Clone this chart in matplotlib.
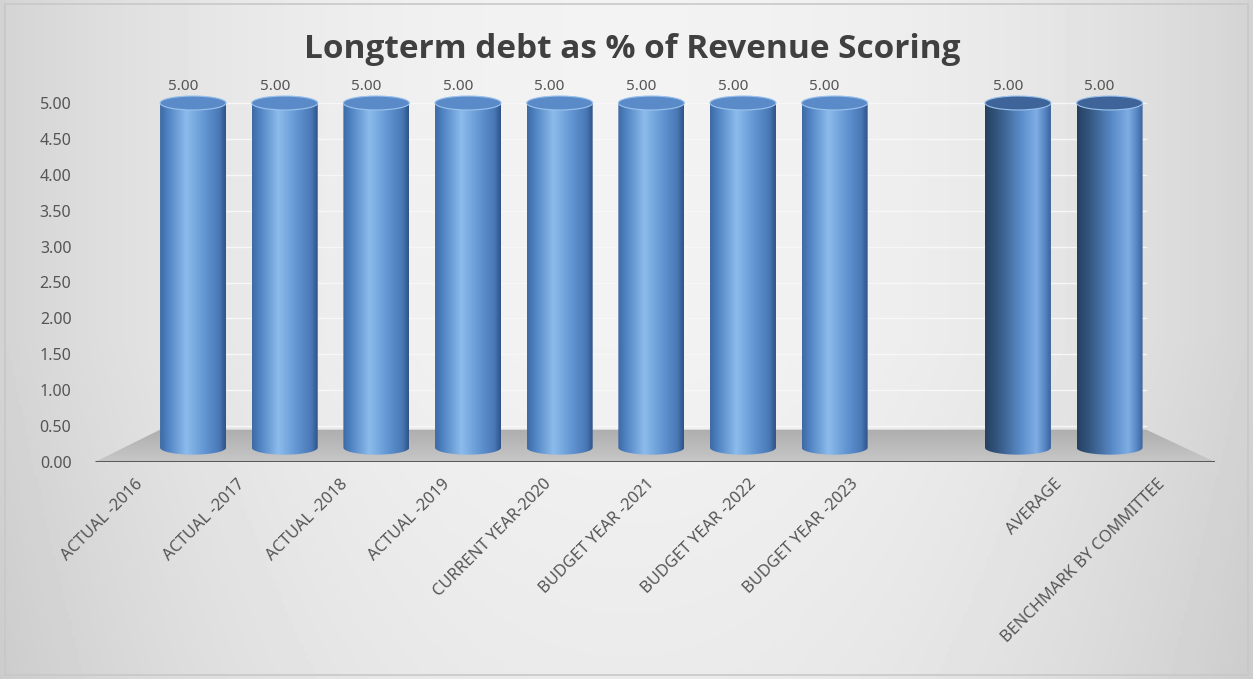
import numpy as np
import matplotlib.pyplot as plt
from matplotlib.patches import Polygon, Ellipse, Rectangle
from matplotlib.colors import LinearSegmentedColormap
import matplotlib.transforms as mtransforms

categories = ["ACTUAL -2016", "ACTUAL -2017", "ACTUAL -2018", "ACTUAL -2019",
              "CURRENT YEAR-2020", "BUDGET YEAR -2021", "BUDGET YEAR -2022",
              "BUDGET YEAR -2023", "", "AVERAGE", "BENCHMARK BY COMMITTEE"]
scores = [5.0, 5.0, 5.0, 5.0, 5.0, 5.0, 5.0, 5.0, None, 5.0, 5.0]
summary_cols = ["AVERAGE", "BENCHMARK BY COMMITTEE"]

W, H = 1253, 679
fig = plt.figure(figsize=(W / 100, H / 100), dpi=100)

# soft gray backdrop, lighter in the middle
bg = fig.add_axes([0, 0, 1, 1])
xx = np.linspace(-1, 1, 400)
yy = np.linspace(-1, 1, 200)
gx, gy = np.meshgrid(xx, yy)
shade = 0.95 - 0.12 * np.abs(gx) ** 2.2 - 0.03 * (gy < 0) * np.abs(gy)
bg.imshow(shade, cmap="gray", vmin=0, vmax=1, extent=[0, 1, 0, 1],
          aspect="auto", origin="lower")
bg.add_patch(Rectangle((0.004, 0.006), 0.992, 0.988, fill=False,
                       ec="#c8c8c8", lw=1.2, transform=bg.transAxes))
bg.set_axis_off()

# axes: x from 95px to 1215px, y 0 at 462px, 5 at 103px
ppu_y = (462 - 103) / 5.0
ymax = 5 + (103 - 70) / ppu_y
ax = fig.add_axes([95 / W, 1 - 462 / H, (1215 - 95) / W, (462 - 70) / H])
ax.set_facecolor("none")
ax.set_xlim(-1.07, 11.15)
ax.set_ylim(0, ymax)

# back-wall gridlines
for g in np.arange(0.5, 5.01, 0.5):
    ax.plot([-0.36, 10.4], [g, g], color="#f7f7f7", lw=1.0, zorder=1)

# floor, a little darker towards the back
floor = Polygon([[-1.07, 0], [11.15, 0], [10.4, 0.45], [-0.36, 0.45]],
                closed=True, fc="none", ec="none")
ax.add_patch(floor)
fgrad = np.linspace(0.78, 0.68, 50).reshape(-1, 1)
fim = ax.imshow(fgrad, cmap="gray", vmin=0, vmax=1, origin="lower",
                extent=[-1.07, 11.15, 0, 0.45], aspect="auto", zorder=2)
fim.set_clip_path(floor)
ax.plot([-1.07, 11.15], [0, 0], color="#5a5a5a", lw=2.2, zorder=3,
        solid_capstyle="butt")

light = LinearSegmentedColormap.from_list(
    "cyl", [(0, "#3d6aa3"), (0.12, "#4f83c2"), (0.4, "#8cbcec"),
            (0.7, "#5f92d0"), (0.9, "#4a78b6"), (1, "#2f5388")])
dark = LinearSegmentedColormap.from_list(
    "cyl_dark", [(0, "#263f60"), (0.2, "#355883"), (0.55, "#5b8dca"),
                 (0.78, "#7eaee4"), (0.92, "#5482c0"), (1, "#3a639a")])

bw = 0.72
cap = 7 / ppu_y  # half-height of the ellipse caps
base = 0.2
grad = np.linspace(0, 1, 256).reshape(1, -1)
txt_kw = dict(color="#555555", family="Noto Sans")

for i, (cat, val) in enumerate(zip(categories, scores)):
    if val is None:
        continue
    cmap = dark if cat in summary_cols else light
    x0, x1 = i - bw / 2, i + bw / 2
    t = np.linspace(0, np.pi, 60)
    top_arc = np.column_stack([i - bw / 2 * np.cos(t), val + cap * np.sin(t)])
    bot_arc = np.column_stack([i + bw / 2 * np.cos(t), base - cap * np.sin(t)])
    outline = np.vstack([[[x0, base]], top_arc, [[x1, base]], bot_arc])
    body = Polygon(outline, closed=True, fc="none", ec="none")
    ax.add_patch(body)
    im = ax.imshow(grad, cmap=cmap, extent=[x0, x1, base - cap, val + cap],
                   aspect="auto", zorder=4, interpolation="bicubic")
    im.set_clip_path(body)
    top_col = "#3e6499" if cat in summary_cols else "#5a8bc8"
    ax.add_patch(Ellipse((i, val), bw, 2 * cap, fc=top_col,
                         ec="#9cc3ee", lw=0.8, zorder=5))
    ax.text(i, val + 9 / ppu_y, f"{val:.2f}", ha="center", va="bottom",
            fontsize=11, zorder=6, **txt_kw,
            transform=ax.transData + mtransforms.ScaledTranslation(
                -10 / 100, 0, fig.dpi_scale_trans))

# category labels sit in front of the floor; the perspective spreads them
# a bit wider than the cylinders
for i, cat in enumerate(categories):
    dx = -58 + 10.5 * i
    shift = mtransforms.ScaledTranslation(dx / 100, -14 / 100,
                                          fig.dpi_scale_trans)
    ax.text(i, 0, cat, rotation=45, ha="right", va="top",
            rotation_mode="anchor", fontsize=11.8, **txt_kw,
            transform=ax.transData + shift)
ax.set_xticks([])

ax.set_yticks(np.arange(0, 5.01, 0.5))
ax.set_yticklabels([f"{v:.2f}" for v in np.arange(0, 5.01, 0.5)],
                   fontsize=11.5, **txt_kw)
ax.tick_params(axis="both", length=0)
ax.tick_params(axis="y", pad=17)
for s in ax.spines.values():
    s.set_visible(False)

fig.text(632 / W, 1 - 50 / H, "Longterm debt as % of Revenue Scoring",
         ha="center", va="center", fontsize=24, fontweight="bold",
         color="#404040", family="Open Sans")

fig.savefig("out.png", dpi=100)
